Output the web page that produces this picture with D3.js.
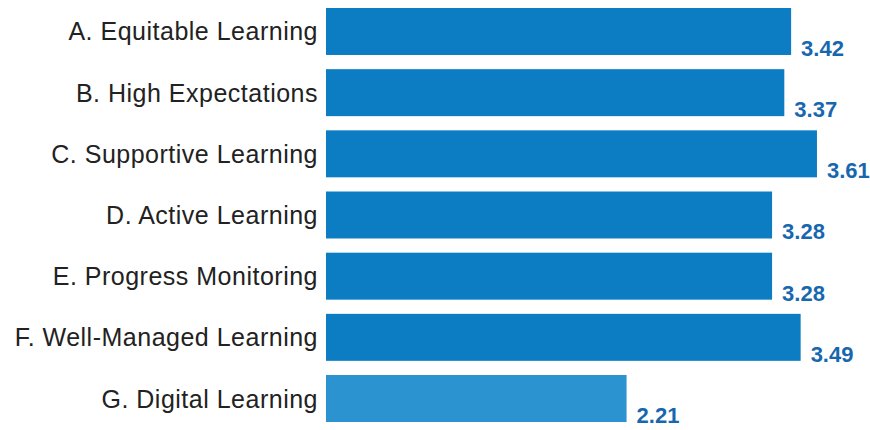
<!DOCTYPE html>
<html>
<head>
<meta charset="utf-8">
<script src="https://cdn.jsdelivr.net/npm/d3@7"></script>
<style>
  body { margin: 0; background: #fff; }
  svg { display: block; }
</style>
</head>
<body>
<svg></svg>
<script>
// chart data
var categories = ['A. Equitable Learning', 'B. High Expectations', 'C. Supportive Learning',
                  'D. Active Learning', 'E. Progress Monitoring', 'F. Well-Managed Learning',
                  'G. Digital Learning'];
var values = [3.42, 3.37, 3.61, 3.28, 3.28, 3.49, 2.21];
var colors = ['#0c7cc3', '#0c7cc3', '#0c7cc3', '#0c7cc3', '#0c7cc3', '#0c7cc3', '#2b93cf'];

var W = 870, H = 430,
    root = d3.select('svg').attr('width', W).attr('height', H);

var x = d3.scaleLinear()
          .domain([0, 4])
          .range([326, 870]);
var y = d3.scaleBand()
          .domain(categories)
          .range([8, 422])
          .paddingInner(0.232)
          .paddingOuter(0);

var rows = categories.map(function(c, i) {
  return { cat: c, val: values[i], col: colors[i] };
});

// bars
root.selectAll('.bar').data(rows)
  .enter().append('rect')
  .attr('class', 'bar')
  .attr('x', x(0))
  .attr('y', function(d) { return y(d.cat); })
  .attr('width', function(d) { return x(d.val) - x(0); })
  .attr('height', y.bandwidth())
  .attr('fill', function(d) { return d.col; });

// category labels
root.selectAll('.cat').data(rows)
  .enter().append('text')
  .attr('class', 'cat')
  .attr('x', 318)
  .attr('y', function(d) { return y(d.cat) + y.bandwidth() / 2 + 9; })
  .attr('text-anchor', 'end')
  .attr('font-family', 'Liberation Sans, Arial, sans-serif')
  .attr('font-size', 25)
  .attr('letter-spacing', 0.5)
  .attr('fill', '#222')
  .text(function(d) { return d.cat; });

// value labels
root.selectAll('.val').data(rows)
  .enter().append('text')
  .attr('class', 'val')
  .attr('x', function(d) { return x(d.val) + 10; })
  .attr('y', function(d) { return y(d.cat) + y.bandwidth() + 1; })
  .attr('font-family', 'Liberation Sans, Arial, sans-serif')
  .attr('font-size', 22)
  .attr('font-weight', 'bold')
  .attr('fill', '#1767af')
  .text(function(d) { return d.val.toFixed(2); });
</script>
</body>
</html>
